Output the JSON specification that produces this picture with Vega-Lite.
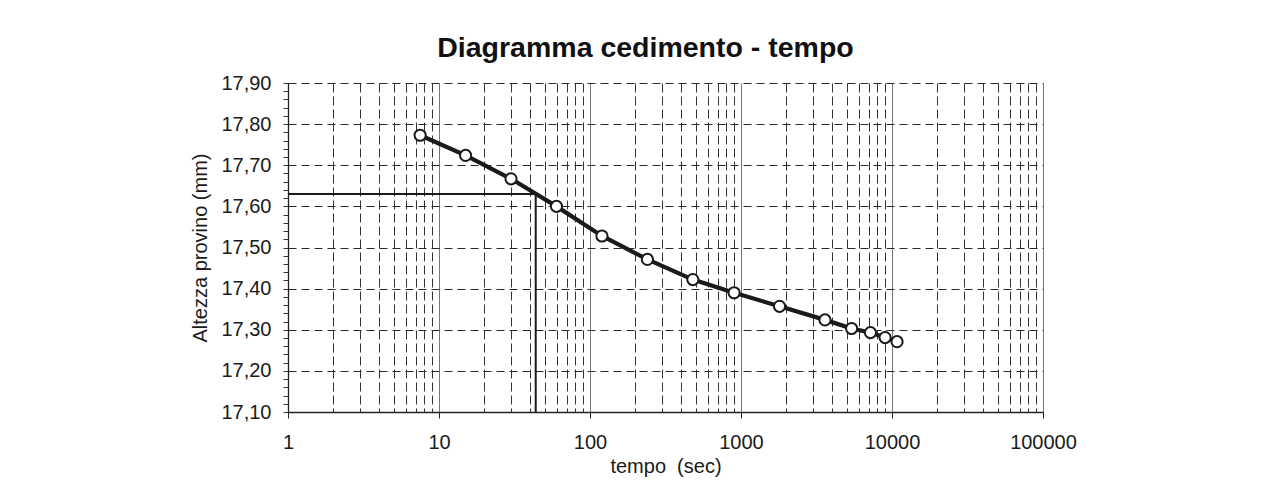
{
  "$schema": "https://vega.github.io/schema/vega-lite/v6.json",
  "autosize": "none",
  "width": 755,
  "height": 329,
  "padding": {"left": 288, "top": 83, "right": 227, "bottom": 76},
  "background": "white",
  "config": {
    "font": "Liberation Sans",
    "view": {"stroke": null},
    "axis": {"labelFont": "Liberation Sans", "titleFont": "Liberation Sans", "labelColor": "#1a1a1a", "titleColor": "#1a1a1a", "labelFontSize": 20, "titleFontSize": 20, "titleFontWeight": "normal"}
  },
  "title": {"text": "Diagramma cedimento - tempo", "fontSize": 28.5, "fontWeight": "bold", "font": "Liberation Sans", "color": "#111111", "anchor": "middle", "frame": "group", "baseline": "alphabetic", "offset": -12, "dx": -20},
  "datasets": {
    "misure": [
      {"t": 7.5, "h": 17.773},
      {"t": 15, "h": 17.724},
      {"t": 30, "h": 17.667},
      {"t": 60, "h": 17.600},
      {"t": 120, "h": 17.528},
      {"t": 240, "h": 17.471},
      {"t": 480, "h": 17.422},
      {"t": 900, "h": 17.390},
      {"t": 1800, "h": 17.357},
      {"t": 3600, "h": 17.324},
      {"t": 5400, "h": 17.303},
      {"t": 7200, "h": 17.293},
      {"t": 9000, "h": 17.281},
      {"t": 10800, "h": 17.271}
    ],
    "costruzione": [
      {"k": 1, "t": 1, "h": 17.63},
      {"k": 2, "t": 43.7, "h": 17.63},
      {"k": 3, "t": 43.7, "h": 17.1}
    ]
  },
  "encoding": {
    "x": {
      "field": "t", "type": "quantitative",
      "scale": {"type": "log", "domain": [1, 100000], "nice": false},
      "axis": {
        "title": "tempo \u00a0(sec)",
        "values": [1,2,3,4,5,6,7,8,9,10,20,30,40,50,60,70,80,90,100,200,300,400,500,600,700,800,900,1000,2000,3000,4000,5000,6000,7000,8000,9000,10000,20000,30000,40000,50000,60000,70000,80000,90000,100000],
        "labelExpr": "abs(log(datum.value)/LN10 - round(log(datum.value)/LN10)) < 0.000001 ? format(datum.value, 'd') : ''",
        "labelFlush": false,
        "labelOverlap": false,
        "labelPadding": 14,
        "tickSize": 6,
        "tickColor": "#222222",
        "tickOpacity": {"condition": {"test": "abs(log(datum.value)/LN10 - round(log(datum.value)/LN10)) < 0.000001", "value": 1}, "value": 0},
        "domainColor": "#222222",
        "domainWidth": 1.3,
        "grid": true,
        "gridColor": {"condition": {"test": "abs(log(datum.value)/LN10 - round(log(datum.value)/LN10)) < 0.000001", "value": "#777777"}, "value": "#333333"},
        "gridDash": {"condition": {"test": "abs(log(datum.value)/LN10 - round(log(datum.value)/LN10)) < 0.000001", "value": []}, "value": [9, 4]},
        "gridWidth": 1,
        "gridOpacity": 1,
        "titlePadding": 4
      }
    },
    "y": {
      "field": "h", "type": "quantitative",
      "scale": {"domain": [17.1, 17.9], "nice": false, "zero": false},
      "axis": {
        "title": "Altezza provino (mm)",
        "values": [17.1,17.12,17.14,17.16,17.18,17.2,17.22,17.24,17.26,17.28,17.3,17.32,17.34,17.36,17.38,17.4,17.42,17.44,17.46,17.48,17.5,17.52,17.54,17.56,17.58,17.6,17.62,17.64,17.66,17.68,17.7,17.72,17.74,17.76,17.78,17.8,17.82,17.84,17.86,17.88,17.9],
        "labelExpr": "abs(datum.value*10 - round(datum.value*10)) < 0.001 ? replace(format(datum.value, '.2f'), '.', ',') : ''",
        "labelFlush": false,
        "labelOverlap": false,
        "labelPadding": 12,
        "tickSize": 5,
        "tickColor": "#333333",
        "domainColor": "#222222",
        "domainWidth": 1.3,
        "grid": true,
        "gridColor": "#2a2a2a",
        "gridDash": [8, 5],
        "gridWidth": 1,
        "gridOpacity": {"condition": {"test": "abs(datum.value*10 - round(datum.value*10)) < 0.001", "value": 1}, "value": 0},
        "titlePadding": 10
      }
    }
  },
  "layer": [
    {
      "data": {"name": "costruzione"},
      "mark": {"type": "line", "color": "#1a1a1a", "strokeWidth": 2, "clip": false},
      "encoding": {"order": {"field": "k", "type": "quantitative"}}
    },
    {
      "data": {"name": "misure"},
      "mark": {"type": "line", "color": "#1a1a1a", "strokeWidth": 4.2}
    },
    {
      "data": {"name": "misure"},
      "mark": {"type": "point", "shape": "circle", "filled": true, "fill": "white", "stroke": "#1a1a1a", "strokeWidth": 2, "size": 125, "opacity": 1}
    }
  ]
}
